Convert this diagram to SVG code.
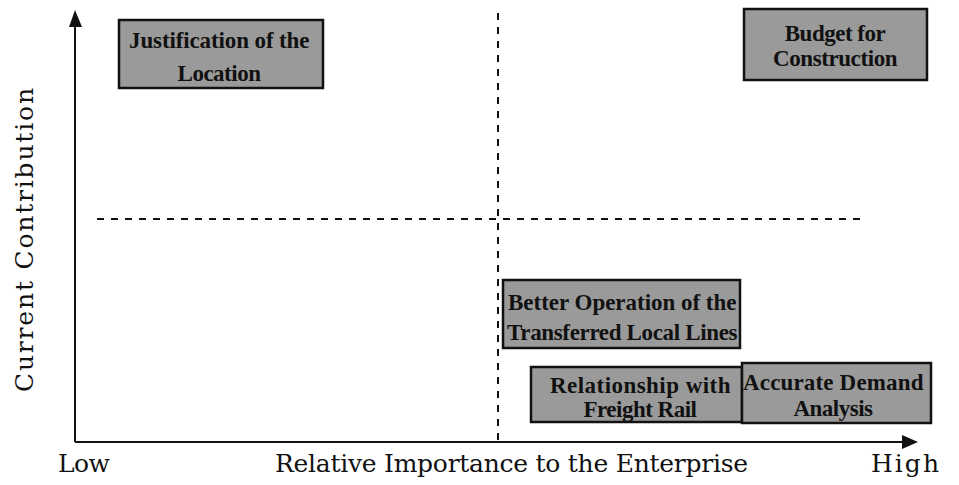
<svg xmlns="http://www.w3.org/2000/svg" width="959" height="485" viewBox="0 0 959 485">
<style>
.box{fill:#9a9a9a;stroke:#111;stroke-width:2.5}
.bt{font-family:"Liberation Serif",serif;font-weight:bold;font-size:23px;fill:#111;text-anchor:middle;letter-spacing:-0.5px}
.ax{font-family:"DejaVu Serif",serif;font-size:25px;fill:#111}
.axis{stroke:#111;stroke-width:2;fill:none}
.dash{stroke:#111;stroke-width:2;stroke-dasharray:7 7;fill:none}
</style>
<g id="connectors">
<line class="dash" x1="498" y1="13" x2="498" y2="442"/>
<line class="dash" x1="97" y1="219" x2="862" y2="219"/>
<path class="axis" d="M75,442 L75,26"/>
<path d="M69,27 L75,10 L82,27 z" fill="#111"/>
<path class="axis" d="M75,442 L903,442"/>
<path d="M902,435 L918,442 L902,449 z" fill="#111"/>
</g>
<g id="labels">
<text class="ax" x="58" y="472" textLength="52">Low</text>
<text class="ax" x="275" y="472" textLength="473">Relative Importance to the Enterprise</text>
<text class="ax" x="871" y="472" textLength="68">High</text>
<text class="ax" transform="translate(33,240) rotate(-90)" text-anchor="middle" textLength="304">Current Contribution</text>
</g>
<g id="n-justification">
<rect class="box" x="119" y="20" width="204" height="68"/>
<text class="bt" x="219" y="48" textLength="180">Justification of the</text>
<text class="bt" x="219" y="81">Location</text>
</g>
<g id="n-budget">
<rect class="box" x="744" y="9" width="183" height="71"/>
<text class="bt" x="835" y="41">Budget for</text>
<text class="bt" x="835" y="66" textLength="124">Construction</text>
</g>
<g id="n-better">
<rect class="box" x="503" y="280" width="237" height="68"/>
<text class="bt" x="622" y="310" textLength="228">Better Operation of the</text>
<text class="bt" x="622" y="340" textLength="230">Transferred Local Lines</text>
</g>
<g id="n-relationship">
<rect class="box" x="531" y="367" width="211" height="55"/>
<text class="bt" x="640" y="393" textLength="180">Relationship with</text>
<text class="bt" x="640" y="417">Freight Rail</text>
</g>
<g id="n-accurate">
<rect class="box" x="742" y="363" width="189" height="60"/>
<text class="bt" x="833" y="390" textLength="180">Accurate Demand</text>
<text class="bt" x="833" y="416">Analysis</text>
</g>
</svg>
